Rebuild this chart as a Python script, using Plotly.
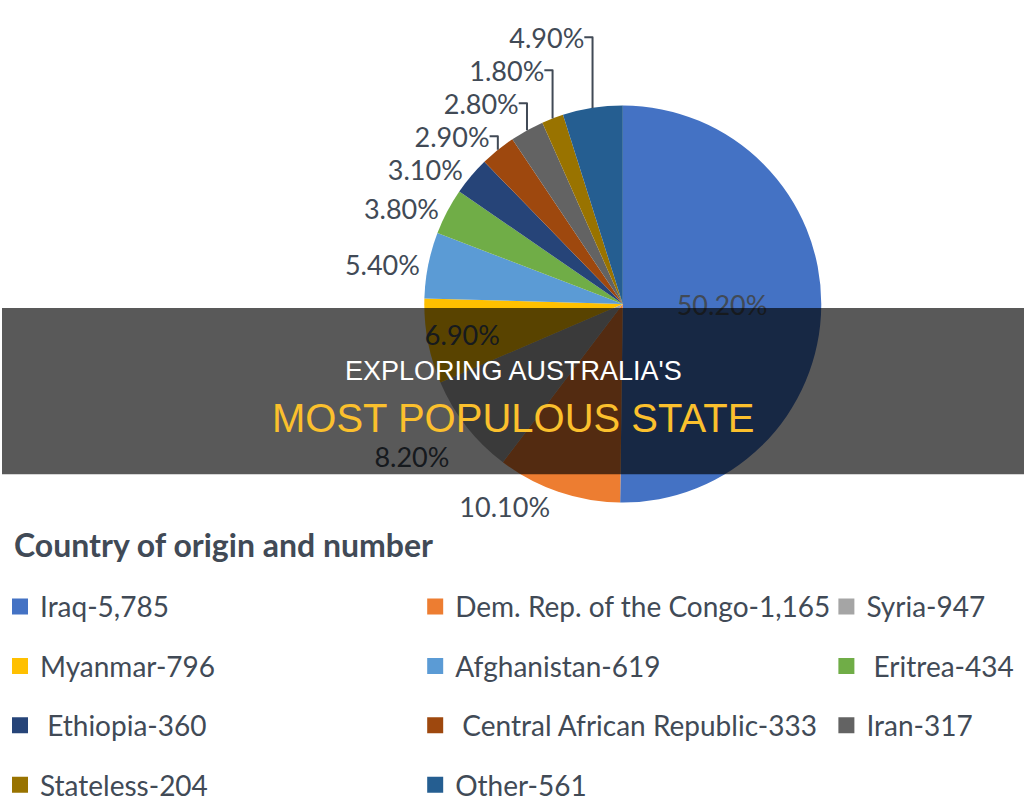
import plotly.graph_objects as go

countries = ["Iraq", "Dem. Rep. of the Congo", "Syria", "Myanmar", "Afghanistan",
             " Eritrea", " Ethiopia", " Central African Republic", "Iran", "Stateless", "Other"]
counts = [5785, 1165, 947, 796, 619, 434, 360, 333, 317, 204, 561]
count_labels = ["5,785", "1,165", "947", "796", "619", "434", "360", "333", "317", "204", "561"]
pct_labels = ["50.20%", "10.10%", "8.20%", "6.90%", "5.40%", "3.80%", "3.10%",
              "2.90%", "2.80%", "1.80%", "4.90%"]
colors = ["#4472C4", "#ED7D31", "#A5A5A5", "#FFC000", "#5B9BD5", "#70AD47",
          "#264478", "#9E480E", "#636363", "#997300", "#255E91"]
text_pos = ["inside", "outside", "outside", "inside", "outside", "outside",
            "outside", "outside", "outside", "outside", "outside"]
legend_cols = ["legend", "legend2", "legend3"]

W, H = 1024, 810
TXT = "#414A56"
FONT = "Lato"

# the Syria label sits one line further out in the reference (blank first line)
pie_text = [("&nbsp;<br>" + t) if c == "Syria" else t for c, t in zip(countries, pct_labels)]

fig = go.Figure()

fig.add_trace(go.Pie(
    labels=countries, values=counts, text=pie_text, textinfo="text",
    textposition=text_pos, insidetextorientation="horizontal",
    sort=False, direction="clockwise", rotation=0,
    marker=dict(colors=colors, line=dict(width=0)),
    textfont=dict(family=FONT, size=27, color=TXT),
    domain=dict(x=[(622 - 203) / W, (622 + 203) / W], y=[1 - 514 / H, 1 - 108 / H]),
    showlegend=False, hoverinfo="label+value+percent",
))

# legend entries (three columns, row-major order)
for i, (c, n, col) in enumerate(zip(countries, count_labels, colors)):
    fig.add_trace(go.Scatter(
        x=[None], y=[None], mode="markers", name=f"{c}-{n}",
        marker=dict(symbol="square", size=16, color=col),
        legend=legend_cols[i % 3], legendgroup=f"g{i}", showlegend=True,
        hoverinfo="skip",
    ))

leg_common = dict(orientation="v", yanchor="top", xanchor="left",
                  font=dict(family=FONT, size=28, color=TXT),
                  tracegroupgap=20, bgcolor="rgba(0,0,0,0)", itemsizing="trace")
y_top = 1 - 595 / H
fig.update_layout(
    legend=dict(x=-2 / W, y=y_top, **leg_common),
    legend2=dict(x=414 / W, y=y_top, **leg_common),
    legend3=dict(x=826 / W, y=y_top, **leg_common),
)

fig.update_layout(
    width=W, height=H, margin=dict(l=0, r=0, t=0, b=0),
    paper_bgcolor="white", plot_bgcolor="white",
    xaxis=dict(visible=False), yaxis=dict(visible=False),
    uniformtext=dict(minsize=27, mode="show"),
    shapes=[dict(type="rect", xref="paper", yref="paper", x0=0, x1=1,
                 y0=1 - 485 / H, y1=1 - 315 / H, fillcolor="rgba(0,0,0,0.65)",
                 line=dict(width=0), layer="above")],
    annotations=[
        dict(text="<b>Country of origin and number</b>", xref="paper", yref="paper",
             x=10 / W, y=1 - 557 / H, xanchor="left", yanchor="middle", showarrow=False,
             font=dict(family=FONT, size=32, color=TXT)),
        dict(text="EXPLORING AUSTRALIA'S", xref="paper", yref="paper",
             x=0.5, y=1 - 379 / H, xanchor="center", yanchor="middle", showarrow=False,
             font=dict(family="Liberation Sans", size=27, color="#FFFFFF")),
        dict(text="MOST POPULOUS STATE", xref="paper", yref="paper",
             x=0.5, y=1 - 428 / H, xanchor="center", yanchor="middle", showarrow=False,
             font=dict(family="Liberation Sans", size=40, color="#FBC02D")),
    ],
)

fig.write_html("out.html")
